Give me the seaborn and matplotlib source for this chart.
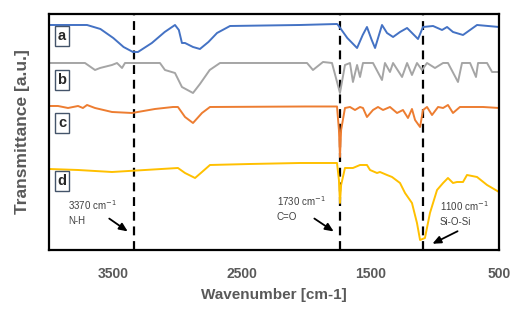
import matplotlib
matplotlib.use("Agg")
import matplotlib.pyplot as plt
import pandas as pd
import seaborn as sns

# spectra (wavenumber cm-1, transmittance with offsets, a.u.)
wn_a = [4000, 3704, 3600, 3500, 3420, 3347, 3308, 3200, 3100, 3020, 2990, 2966, 2942, 2880, 2826,
        2760, 2693, 2592, 2048, 1760, 1752, 1680, 1604, 1560, 1527, 1490, 1464, 1410, 1371,
        1324, 1270, 1215, 1130, 1091, 1013, 943, 904, 858, 780, 671, 500]
t_a = [225, 225, 221, 212, 203, 198, 198, 207, 218, 225, 220, 207, 207, 203, 201,
       208, 217, 224, 225, 226, 225, 212, 202, 215, 223, 210, 202, 225, 217,
       213, 218, 222, 211, 223, 224, 220, 223, 218, 215, 225, 223]

wn_b = [4000, 3720, 3642, 3603, 3510, 3471, 3432, 3409, 3137, 3098, 3020, 2966, 2880, 2826, 2750,
        2670, 1993, 1947, 1869, 1799, 1737, 1698, 1659, 1636, 1604, 1581, 1558, 1480, 1410,
        1387, 1348, 1324, 1254, 1215, 1177, 1138, 1099, 1060, 998, 935, 897, 819, 788, 725,
        679, 663, 593, 554, 500]
t_b = [187, 187, 180, 182, 185, 187, 182, 187, 187, 180, 177, 163, 157, 166, 180,
       187, 187, 180, 188, 187, 157, 185, 187, 168, 185, 173, 187, 187, 170,
       187, 178, 187, 173, 187, 175, 187, 180, 187, 182, 187, 187, 168, 187, 187,
       173, 187, 187, 178, 178]

wn_c = [4000, 3930, 3852, 3774, 3736, 3704, 3642, 3510, 3354, 3176, 3036, 2997, 2942, 2880, 2810,
        2748, 2000, 1760, 1745, 1737, 1728, 1698, 1659, 1620, 1581, 1558, 1527, 1480, 1441,
        1402, 1348, 1293, 1247, 1208, 1177, 1153, 1114, 1091, 1060, 1021, 974, 935, 897, 858,
        804, 725, 624, 500]
t_c = [144, 144, 142, 144, 142, 145, 142, 138, 137, 141, 143, 143, 133, 127, 137,
       143, 143.5, 143.5, 120, 93, 120, 142, 143, 140, 143, 142, 133, 140, 143,
       140, 143, 137, 140, 132, 141, 130, 123, 140, 143, 135, 143, 142, 145, 137,
       143, 143, 143, 142]

wn_d = [4000, 3774, 3510, 3253, 2997, 2942, 2864, 2810, 2748, 2437, 2048, 1760, 1745, 1737, 1728,
        1698, 1636, 1581, 1527, 1503, 1449, 1426, 1371, 1332, 1270, 1231, 1177, 1138, 1114,
        1076, 1037, 982, 935, 897, 858, 827, 780, 749, 671, 593, 500]
t_d = [81, 80, 78, 80, 82, 77, 72, 78, 85, 86, 87, 87, 70, 47, 65,
       82, 82, 85, 85, 80, 77, 78, 75, 73, 67, 57, 47, 27, 10,
       12, 37, 60, 67, 72, 67, 68, 68, 75, 73, 65, 58]

labels = ["a", "b", "c", "d"]
colors = ["#4472C4", "#A5A5A5", "#ED7D31", "#FFC000"]
label_y = [214, 170, 127, 69]

peaks = [3340, 1735, 1090]
peak_texts = ["3370 cm$^{-1}$\nN-H", "1730 cm$^{-1}$\nC=O", "1100 cm$^{-1}$\nSi-O-Si"]

frames = []
for lab, wn, t in zip(labels, [wn_a, wn_b, wn_c, wn_d], [t_a, t_b, t_c, t_d]):
    frames.append(pd.DataFrame({"wn": wn, "T": t, "sample": lab}))
df = pd.concat(frames, ignore_index=True)

sns.set_style("white")
plt.rcParams["font.family"] = ["Liberation Sans", "DejaVu Sans"]

fig = plt.figure(figsize=(5.25, 3.13), dpi=100)
ax = fig.add_axes([0.0933, 0.2013, 0.8572, 0.754])

sns.lineplot(data=df, x="wn", y="T", hue="sample", palette=colors, sort=False,
             estimator=None, linewidth=1.4, legend=False, ax=ax)

for p in peaks:
    ax.axvline(p, color="black", linestyle=(0, (4, 2.6)), linewidth=1.6, zorder=1)

for lab, y in zip(labels, label_y):
    ax.text(3899, y, lab, fontsize=10.5, fontweight="bold", ha="center", va="center",
            bbox=dict(boxstyle="square,pad=0.2", facecolor="white", edgecolor="#44546A", linewidth=1))

# annotations (text position, arrow start, arrow tip)
ann = [((3852, 38), (3549, 33), (3370, 17)),
       ((2227, 42), (1954, 33), (1768, 17)),
       ((959, 37), (803, 20), (1037, 5))]
for txt, (tpos, a0, a1) in zip(peak_texts, ann):
    ax.text(tpos[0], tpos[1], txt, fontsize=7, color="#404040", ha="left", va="center",
            linespacing=1.5)
    ax.annotate("", xy=a1, xytext=a0,
                arrowprops=dict(arrowstyle="-|>,head_length=0.5,head_width=0.22",
                                color="black", lw=1.3))

ax.set_xlim(4000, 500)
ax.set_ylim(0, 236)
ax.set_xticks([3500, 2500, 1500, 500])
ax.set_yticks([])
ax.tick_params(axis="x", direction="in", length=3, width=1.2, labelsize=10,
               labelcolor="#595959", pad=12)
for lbl in ax.get_xticklabels():
    lbl.set_fontweight("bold")
for s in ax.spines.values():
    s.set_color("black")
    s.set_linewidth(1.6)

ax.set_xlabel("Wavenumber [cm-1]", fontsize=11, fontweight="bold", color="#595959", labelpad=5)
ax.set_ylabel("Transmittance [a.u.]", fontsize=12.5, fontweight="bold", color="#595959", labelpad=14)

fig.savefig("out.png", dpi=100)
